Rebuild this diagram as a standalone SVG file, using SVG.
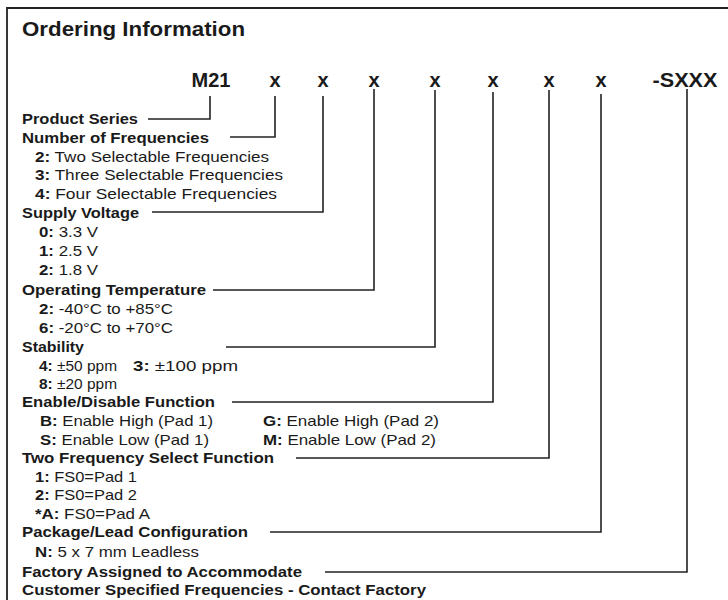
<svg xmlns="http://www.w3.org/2000/svg" width="728" height="600" viewBox="0 0 728 600">
<style>
text{font-family:"Liberation Sans",Arial,Helvetica,sans-serif;fill:#1a1a1a}
.t{font-size:21px;font-weight:bold}
.c{font-size:20px;font-weight:bold;text-anchor:middle}
.h{font-size:15px;font-weight:bold}
.o{font-size:15px}
.o tspan.k{font-weight:bold}
.ln{fill:none;stroke:#222;stroke-width:1.6}
</style>
<rect width="728" height="600" fill="#fff"/>
<path d="M7,600 V8 H728" fill="none" stroke="#222" stroke-width="1.8"/>
<text class="t" x="22" y="36" textLength="223" lengthAdjust="spacingAndGlyphs">Ordering Information</text>
<g id="code">
<text class="c" x="211" y="87">M21</text>
<text class="c" x="275" y="87">x</text>
<text class="c" x="323" y="87">x</text>
<text class="c" x="374" y="87">x</text>
<text class="c" x="435" y="87">x</text>
<text class="c" x="493" y="87">x</text>
<text class="c" x="549" y="87">x</text>
<text class="c" x="601" y="87">x</text>
<text class="c" x="685" y="87" textLength="65" lengthAdjust="spacingAndGlyphs">-SXXX</text>
</g>
<g id="connectors">
<path class="ln" d="M148,119 H210 V96"/>
<path class="ln" d="M230,137 H275 V96"/>
<path class="ln" d="M152,212 H323 V96"/>
<path class="ln" d="M213,290 H374 V89"/>
<path class="ln" d="M226,347 H435 V90"/>
<path class="ln" d="M232,402 H493 V92"/>
<path class="ln" d="M296,458 H549 V90"/>
<path class="ln" d="M270,532 H601 V94"/>
<path class="ln" d="M325,572 H687 V89"/>
</g>
<g id="product-series">
<text class="h" x="22" y="124" textLength="116" lengthAdjust="spacingAndGlyphs">Product Series</text>
</g>
<g id="number-of-frequencies">
<text class="h" x="22" y="142.5" textLength="187" lengthAdjust="spacingAndGlyphs">Number of Frequencies</text>
<text class="o" x="35" y="161.5" textLength="234" lengthAdjust="spacingAndGlyphs"><tspan class="k">2:</tspan> Two Selectable Frequencies</text>
<text class="o" x="35" y="180" textLength="248" lengthAdjust="spacingAndGlyphs"><tspan class="k">3:</tspan> Three Selectable Frequencies</text>
<text class="o" x="35" y="198.5" textLength="242" lengthAdjust="spacingAndGlyphs"><tspan class="k">4:</tspan> Four Selectable Frequencies</text>
</g>
<g id="supply-voltage">
<text class="h" x="22" y="217.5" textLength="117" lengthAdjust="spacingAndGlyphs">Supply Voltage</text>
<text class="o" x="39" y="236.5" textLength="59" lengthAdjust="spacingAndGlyphs"><tspan class="k">0:</tspan> 3.3 V</text>
<text class="o" x="39" y="255.5" textLength="59" lengthAdjust="spacingAndGlyphs"><tspan class="k">1:</tspan> 2.5 V</text>
<text class="o" x="39" y="274.5" textLength="59" lengthAdjust="spacingAndGlyphs"><tspan class="k">2:</tspan> 1.8 V</text>
</g>
<g id="operating-temperature">
<text class="h" x="22" y="295" textLength="184" lengthAdjust="spacingAndGlyphs">Operating Temperature</text>
<text class="o" x="39" y="314" textLength="134" lengthAdjust="spacingAndGlyphs"><tspan class="k">2:</tspan> -40°C to +85°C</text>
<text class="o" x="39" y="333" textLength="134" lengthAdjust="spacingAndGlyphs"><tspan class="k">6:</tspan> -20°C to +70°C</text>
</g>
<g id="stability">
<text class="h" x="22" y="352" textLength="62" lengthAdjust="spacingAndGlyphs">Stability</text>
<text class="o" x="39" y="370.5" textLength="78" lengthAdjust="spacingAndGlyphs"><tspan class="k">4:</tspan> ±50 ppm</text>
<text class="o" x="133" y="370.5" textLength="105" lengthAdjust="spacingAndGlyphs"><tspan class="k">3:</tspan> ±100 ppm</text>
<text class="o" x="39" y="389" textLength="78" lengthAdjust="spacingAndGlyphs"><tspan class="k">8:</tspan> ±20 ppm</text>
</g>
<g id="enable-disable">
<text class="h" x="22" y="407" textLength="193" lengthAdjust="spacingAndGlyphs">Enable/Disable Function</text>
<text class="o" x="40" y="426" textLength="173" lengthAdjust="spacingAndGlyphs"><tspan class="k">B:</tspan> Enable High (Pad 1)</text>
<text class="o" x="263" y="426" textLength="176" lengthAdjust="spacingAndGlyphs"><tspan class="k">G:</tspan> Enable High (Pad 2)</text>
<text class="o" x="40" y="444.5" textLength="169" lengthAdjust="spacingAndGlyphs"><tspan class="k">S:</tspan> Enable Low (Pad 1)</text>
<text class="o" x="263" y="444.5" textLength="173" lengthAdjust="spacingAndGlyphs"><tspan class="k">M:</tspan> Enable Low (Pad 2)</text>
</g>
<g id="frequency-select">
<text class="h" x="22" y="463" textLength="252" lengthAdjust="spacingAndGlyphs">Two Frequency Select Function</text>
<text class="o" x="35" y="481.5" textLength="102" lengthAdjust="spacingAndGlyphs"><tspan class="k">1:</tspan> FS0=Pad 1</text>
<text class="o" x="35" y="500" textLength="102" lengthAdjust="spacingAndGlyphs"><tspan class="k">2:</tspan> FS0=Pad 2</text>
<text class="o" x="35" y="518.5" textLength="115" lengthAdjust="spacingAndGlyphs"><tspan class="k">*A:</tspan> FS0=Pad A</text>
</g>
<g id="package">
<text class="h" x="22" y="537" textLength="226" lengthAdjust="spacingAndGlyphs">Package/Lead Configuration</text>
<text class="o" x="35" y="556.5" textLength="164" lengthAdjust="spacingAndGlyphs"><tspan class="k">N:</tspan> 5 x 7 mm Leadless</text>
</g>
<g id="factory">
<text class="h" x="22" y="577" textLength="280" lengthAdjust="spacingAndGlyphs">Factory Assigned to Accommodate</text>
<text class="h" x="22" y="595" textLength="404" lengthAdjust="spacingAndGlyphs">Customer Specified Frequencies - Contact Factory</text>
</g>
</svg>
